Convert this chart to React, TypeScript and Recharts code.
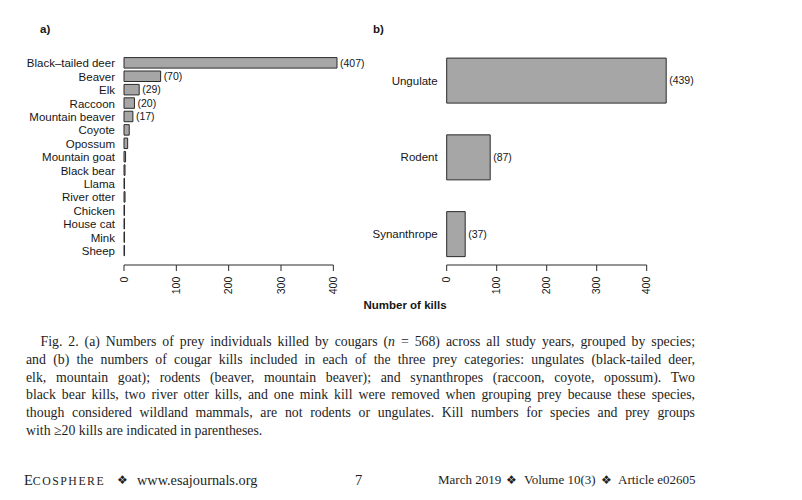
import React from 'react';
import { BarChart, Bar, XAxis, YAxis, LabelList } from 'recharts';

// ---------- data ----------
const speciesNames = [
  'Black–tailed deer',
  'Beaver',
  'Elk',
  'Raccoon',
  'Mountain beaver',
  'Coyote',
  'Opossum',
  'Mountain goat',
  'Black bear',
  'Llama',
  'River otter',
  'Chicken',
  'House cat',
  'Mink',
  'Sheep',
];
const speciesKills = [407, 70, 29, 20, 17, 10, 7, 3, 2, 1, 2, 1, 1, 1, 1];
const groupNames = ['Ungulate', 'Rodent', 'Synanthrope'];
const groupKills = [439, 87, 37];
const killTicks = [0, 100, 200, 300, 400];
const labelMin = 17;

const speciesData = speciesNames.map((name, i) => ({
  name,
  kills: speciesKills[i],
  label: speciesKills[i] >= labelMin ? `(${speciesKills[i]})` : '',
}));
const groupData = groupNames.map((name, i) => ({
  name,
  kills: groupKills[i],
  label: `(${groupKills[i]})`,
}));

// ---------- style ----------
const SANS = '"Liberation Sans", Arial, Helvetica, sans-serif';
const SERIF = '"Liberation Serif", "Times New Roman", serif';
const AXIS = '#2a2a2a';
const TEXT = '#161616';
const FILL = '#a6a6a6';
const INK = '#1e1e1e';

type Panel = {
  left: number;
  width: number;
  height: number;
  yAxisWidth: number;
  plotWidth: number;
  domainMax: number;
  plotTop: number;
  plotBottom: number;
  axisShift: number;
  barSize: number;
};

const panelA: Panel = {
  left: 0,
  width: 380,
  height: 320,
  yAxisWidth: 124,
  plotWidth: 219.8,
  domainMax: 420,
  plotTop: 56.6,
  plotBottom: 257.7,
  axisShift: 7.3,
  barSize: 10.5,
};

const panelB: Panel = {
  left: 360,
  width: 360,
  height: 320,
  yAxisWidth: 86.7,
  plotWidth: 225,
  domainMax: 450,
  plotTop: 42.1,
  plotBottom: 272.4,
  axisShift: -7.4,
  barSize: 45,
};

const X_AXIS_HEIGHT = 40;

function makeKillTick(step: number, shift: number) {
  return function KillTick(props: any) {
    const { x, y, payload } = props;
    const ay = y + shift;
    const last = payload.value >= killTicks[killTicks.length - 1];
    return (
      <g>
        {!last && (
          <line x1={x} y1={ay} x2={x + step} y2={ay} stroke={AXIS} strokeWidth={1} />
        )}
        <line x1={x} y1={ay} x2={x} y2={ay + 6} stroke={AXIS} strokeWidth={1} />
        <text
          transform={`translate(${x},${ay + 11.7}) rotate(-90)`}
          textAnchor="end"
          dy="0.36em"
          fontSize={10.5}
          fontFamily={SANS}
          fill={TEXT}
        >
          {payload.value}
        </text>
      </g>
    );
  };
}

function PanelChart({ p, data }: { p: Panel; data: any[] }) {
  const step = (p.plotWidth / p.domainMax) * 100;
  const marginRight = p.width - p.yAxisWidth - p.plotWidth;
  const marginBottom = p.height - p.plotBottom - X_AXIS_HEIGHT;
  return (
    <div style={{ position: 'absolute', left: p.left, top: 0 }}>
      <BarChart
        width={p.width}
        height={p.height}
        data={data}
        layout="vertical"
        margin={{ top: p.plotTop, right: marginRight, bottom: marginBottom, left: 0 }}
        style={{ fontFamily: SANS }}
      >
        <XAxis
          type="number"
          domain={[0, p.domainMax]}
          ticks={killTicks}
          interval={0}
          axisLine={false}
          tickLine={false}
          tickSize={0}
          tickMargin={0}
          height={X_AXIS_HEIGHT}
          tick={makeKillTick(step, p.axisShift)}
        />
        <YAxis
          type="category"
          dataKey="name"
          width={p.yAxisWidth}
          interval={0}
          axisLine={false}
          tickLine={false}
          tickSize={0}
          tickMargin={9}
          tick={{ fontSize: 11.5, fill: TEXT, fontFamily: SANS }}
        />
        <Bar
          dataKey="kills"
          fill={FILL}
          stroke={AXIS}
          strokeWidth={1}
          barSize={p.barSize}
          isAnimationActive={false}
        >
          <LabelList
            dataKey="label"
            position="right"
            offset={3}
            fill={TEXT}
            fontSize={10.5}
            fontFamily={SANS}
          />
        </Bar>
      </BarChart>
    </div>
  );
}

const lineStyle: React.CSSProperties = {
  textAlign: 'justify',
  textAlignLast: 'justify',
  height: 17.8,
};

const footText = (left: number, size = 13.5): React.CSSProperties => ({
  position: 'absolute',
  left,
  top: 471,
  fontFamily: SERIF,
  fontSize: size,
  lineHeight: '18px',
  color: INK,
  whiteSpace: 'nowrap',
});

const Diamond = ({ left }: { left: number }) => (
  <div style={{ ...footText(left, 12), fontFamily: '"DejaVu Sans", sans-serif' }}>❖</div>
);

export default function App() {
  return (
    <div
      style={{
        position: 'absolute',
        left: 0,
        top: 0,
        width: 802,
        height: 500,
        background: '#fff',
        overflow: 'hidden',
      }}
    >
      <PanelChart p={panelA} data={speciesData} />
      <PanelChart p={panelB} data={groupData} />

      <div
        style={{
          position: 'absolute',
          left: 40,
          top: 23,
          fontFamily: SANS,
          fontWeight: 'bold',
          fontSize: 11.5,
          color: TEXT,
        }}
      >
        a)
      </div>
      <div
        style={{
          position: 'absolute',
          left: 373,
          top: 23,
          fontFamily: SANS,
          fontWeight: 'bold',
          fontSize: 11.5,
          color: TEXT,
        }}
      >
        b)
      </div>
      <div
        style={{
          position: 'absolute',
          left: 305,
          width: 200,
          top: 299,
          textAlign: 'center',
          fontFamily: SANS,
          fontWeight: 'bold',
          fontSize: 11.5,
          color: TEXT,
        }}
      >
        Number of kills
      </div>

      <div
        style={{
          position: 'absolute',
          left: 26,
          top: 333,
          width: 669,
          fontFamily: SERIF,
          fontSize: 13.8,
          lineHeight: '17.8px',
          color: INK,
        }}
      >
        <div style={{ ...lineStyle, paddingLeft: 14.5 }}>
          Fig. 2. (a) Numbers of prey individuals killed by cougars (<i>n</i> = 568) across all study years, grouped by species;
        </div>
        <div style={lineStyle}>
          and (b) the numbers of cougar kills included in each of the three prey categories: ungulates (black-tailed deer,
        </div>
        <div style={lineStyle}>
          elk, mountain goat); rodents (beaver, mountain beaver); and synanthropes (raccoon, coyote, opossum). Two
        </div>
        <div style={lineStyle}>
          black bear kills, two river otter kills, and one mink kill were removed when grouping prey because these species,
        </div>
        <div style={lineStyle}>
          though considered wildland mammals, are not rodents or ungulates. Kill numbers for species and prey groups
        </div>
        <div style={{ height: 17.8 }}>with ≥20 kills are indicated in parentheses.</div>
      </div>

      {/* footer */}
      <div style={footText(24, 14.5)}>
        E<span style={{ fontSize: 11.8, letterSpacing: 1.5 }}>COSPHERE</span>
      </div>
      <Diamond left={117} />
      <div style={footText(137, 14.3)}>www.esajournals.org</div>
      <div style={footText(355, 14.5)}>7</div>
      <div style={footText(438, 13)}>March 2019</div>
      <Diamond left={506} />
      <div style={footText(524, 13)}>Volume 10(3)</div>
      <Diamond left={601} />
      <div style={footText(618, 13)}>Article e02605</div>
    </div>
  );
}
